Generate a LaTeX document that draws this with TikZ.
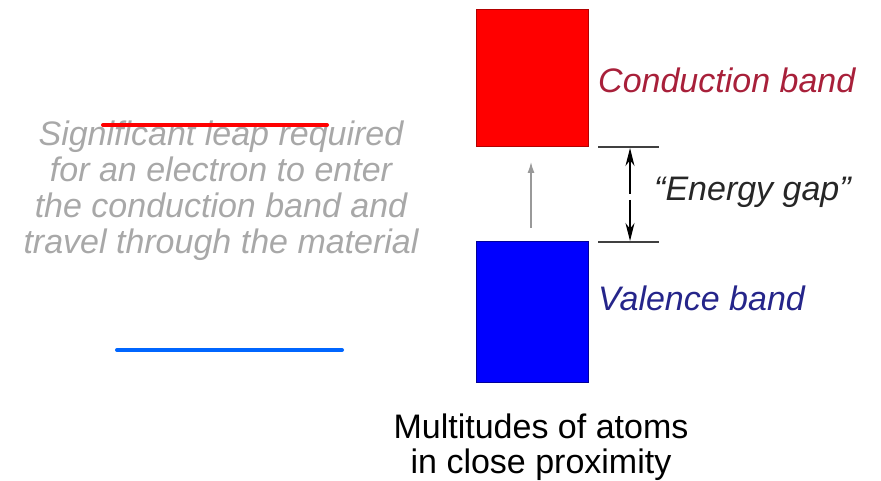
\documentclass[tikz,border=0pt]{standalone}
\usepackage{fontspec}
\setmainfont{Liberation Sans}
\usetikzlibrary{arrows.meta}
\definecolor{condtext}{HTML}{A8203A}
\definecolor{valtext}{HTML}{25258A}
\definecolor{leaptext}{HTML}{A8A8A8}
\definecolor{lineblue}{HTML}{0066FF}
\definecolor{boxred}{HTML}{FF0000}
\definecolor{boxblue}{HTML}{0000FF}
\tikzset{
  band/.style={inner sep=0pt, outer sep=0pt},
  lbl/.style={inner sep=0pt, anchor=west, font=\fontsize{34}{36}\selectfont\itshape},
  dimline/.style={line width=1.2pt, draw=black!75},
  dimarrow/.style={line width=1.2pt, draw=black, -{Stealth[length=18pt,width=9pt]}},
  level/.style={line width=4pt, line cap=round}
}
\begin{document}
\begin{tikzpicture}[x=1pt,y=-1pt]
\useasboundingbox (0,0) rectangle (881,481);
% bands
\node[band, fill=boxred, draw=boxred!70!black, line width=1pt, minimum width=112pt, minimum height=137pt] (cb) at (532,78.5) {};
\node[band, fill=boxblue, draw=boxblue!60!black, line width=1pt, minimum width=112pt, minimum height=141pt] (vb) at (532,312) {};
% labels
\node[lbl, text=condtext] (cbl) at (598,80) {Conduction band};
\node[lbl, text=valtext] (vbl) at (598,298) {Valence band};
\node[lbl, text=black!85] (eg) at (654,192) {``Energy gap''};
% gray arrow between bands
\coordinate (ga1) at (531,228);
\coordinate (ga2) at (531,162);
\draw[line width=1.3pt, draw=black!40, -{Latex[length=11pt,width=7pt]}] (ga1) -- (ga2);
% dimension lines
\coordinate (t1) at (598,147);
\coordinate (t2) at (659,147);
\coordinate (b1) at (598,242);
\coordinate (b2) at (659,242);
\draw[dimline] (t1) -- (t2);
\draw[dimline] (b1) -- (b2);
\coordinate (mt) at (630,194);
\coordinate (mb) at (630,200);
\coordinate (at) at (630,148);
\coordinate (ab) at (630,241);
\draw[dimarrow] (mt) -- (at);
\draw[dimarrow] (mb) -- (ab);
% left text
\node[inner sep=0pt, align=center, text=leaptext, font=\fontsize{34}{36}\selectfont\itshape] (leap) at (221,191)
  {Significant leap required\\for an electron to enter\\the conduction band and\\travel through the material};
% level lines
\coordinate (r1) at (103,125);
\coordinate (r2) at (327,125);
\draw[level, draw=red] (r1) -- (r2);
\coordinate (l1) at (117,350);
\coordinate (l2) at (342,350);
\draw[level, draw=lineblue] (l1) -- (l2);
% bottom text
\node[inner sep=0pt, align=center, text=black, font=\fontsize{34}{35}\selectfont] (atoms) at (541,447)
  {Multitudes of atoms\\in close proximity};
\end{tikzpicture}
\end{document}
